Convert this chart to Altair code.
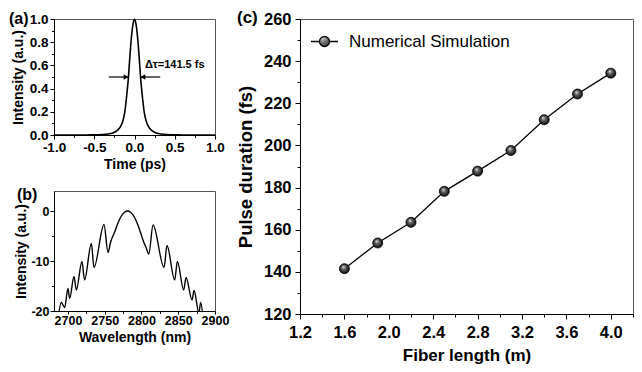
import altair as alt
import pandas as pd

FONT = "Liberation Sans"

# ---------------- (a) temporal pulse ----------------
t_ps = [-1.0, -0.8, -0.6, -0.5, -0.4, -0.33, -0.27, -0.22, -0.18, -0.15, -0.12, -0.1,
        -0.075, -0.06, -0.04, -0.02, 0.0, 0.02, 0.04, 0.06, 0.075, 0.1, 0.12, 0.15,
        0.18, 0.22, 0.27, 0.33, 0.4, 0.5, 0.6, 0.8, 1.0]
pulse_I = [0.0, 0.0, 0.0005, 0.001, 0.003, 0.008, 0.018, 0.035, 0.065, 0.11, 0.2, 0.32,
           0.5, 0.65, 0.83, 0.95, 1.0, 0.95, 0.83, 0.65, 0.5, 0.32, 0.2, 0.11,
           0.065, 0.035, 0.018, 0.008, 0.003, 0.001, 0.0005, 0.0, 0.0]

# FWHM arrows (data coordinates) and label
arrow_t_start = [-0.32, 0.32]
arrow_t_end = [-0.075, 0.075]
arrow_head_t = [-0.105, 0.105]
arrow_head_shape = ["triangle-right", "triangle-left"]
arrow_level = [0.5, 0.5]
label_t = [0.13]
label_v = [0.6]
label_text = ["Δτ=141.5 fs"]

# ---------------- (b) spectrum ----------------
wl_nm = [2686, 2691, 2695.5, 2700, 2702.3, 2708.2, 2711.4, 2719, 2722.6, 2731.8, 2735.4,
         2749, 2754.5, 2758, 2763.5, 2768, 2772.6, 2777, 2781, 2785, 2789.5, 2794,
         2798.5, 2803, 2806.5, 2810, 2815.7, 2830.7, 2834.7, 2845.2, 2848.8, 2857.4,
         2860.6, 2868.8, 2871.5, 2878, 2880.6, 2884]
spec_db = [-22, -18.3, -19.3, -15.5, -17.5, -13.1, -15.8, -10.1, -13.8, -6.5, -11.3,
           -2.7, -8.3, -6.2, -4.2, -2.4, -1.0, -0.25, 0.0, -0.25, -1.0, -2.4,
           -4.2, -6.2, -7.4, -8.6, -2.8, -11.3, -6.9, -13.8, -10.1, -15.8,
           -13.3, -17.8, -15.9, -20.3, -18.3, -22]

# ---------------- (c) pulse duration vs fiber length ----------------
fiber_m = [1.6, 1.9, 2.2, 2.5, 2.8, 3.1, 3.4, 3.7, 4.0]
duration_fs = [141.5, 153.7, 163.5, 178.2, 187.8, 197.6, 212.2, 224.4, 234.3]
series_name = ["Numerical Simulation"] * len(fiber_m)

a_xticks = [-1.0, -0.5, 0.0, 0.5, 1.0]
a_xminor = [-0.75, -0.25, 0.25, 0.75]
a_yticks = [0.0, 0.2, 0.4, 0.6, 0.8, 1.0]
a_yminor = [0.1, 0.3, 0.5, 0.7, 0.9]
b_xticks = [2700, 2750, 2800, 2850, 2900]
b_xminor = [2725, 2775, 2825, 2875]
b_yticks = [-20, -10, 0]
b_yminor = [-15, -5]
c_xticks = [1.2, 1.6, 2.0, 2.4, 2.8, 3.2, 3.6, 4.0]
c_xminor = [1.4, 1.8, 2.2, 2.6, 3.0, 3.4, 3.8, 4.2]
c_yticks = [120, 140, 160, 180, 200, 220, 240, 260]
c_yminor = [130, 150, 170, 190, 210, 230, 250]

MINUS_FIX = "replace(datum.label, '\u2212', '-')"


def major_axis(vals, title, lsize, tsize, tick, lpad, tpad, fmt, expr=None):
    kw = dict(values=vals, tickCount=len(vals), format=fmt, title=title,
              labelFontSize=lsize, titleFontSize=tsize, tickSize=tick,
              labelPadding=lpad, titlePadding=tpad, labelOverlap=False)
    if expr:
        kw["labelExpr"] = expr
    return alt.Axis(**kw)


def minor_layer(df, xf, yf, xs, ys, xvals, yvals, size):
    return alt.Chart(df).mark_point(opacity=0).encode(
        x=alt.X(xf, scale=xs, axis=alt.Axis(values=xvals, tickCount=len(xvals),
                                            labels=False, domain=False, grid=False,
                                            title=None, tickSize=size,
                                            orient="bottom")),
        y=alt.Y(yf, scale=ys, axis=alt.Axis(values=yvals, tickCount=len(yvals),
                                            labels=False, domain=False, grid=False,
                                            title=None, tickSize=size,
                                            orient="left")),
    )


def panel_title(text, dx, size, offset):
    return alt.TitleParams(text, anchor="start", frame="group", font=FONT,
                           fontSize=size, fontWeight="bold", dx=dx, offset=offset)


# ---- panel (a)
pulse_df = pd.DataFrame({"t": t_ps, "I": pulse_I})
arrow_df = pd.DataFrame({"t0": arrow_t_start, "t1": arrow_t_end, "v": arrow_level,
                         "th": arrow_head_t, "shape": arrow_head_shape})
lab_df = pd.DataFrame({"t": label_t, "v": label_v, "txt": label_text})

ax_a = alt.Scale(domain=[-1, 1], nice=False, zero=False)
ay_a = alt.Scale(domain=[0, 1], nice=False)

a_line = alt.Chart(pulse_df).mark_line(color="black", strokeWidth=1.6,
                                        interpolate="monotone").encode(
    x=alt.X("t:Q", scale=ax_a,
            axis=major_axis(a_xticks, "Time (ps)", 13.5, 14, 4, 1, 4, ".1f", MINUS_FIX)),
    y=alt.Y("I:Q", scale=ay_a,
            axis=major_axis(a_yticks, "Intensity (a.u.)", 13.5, 14, 4, 2, 4, ".1f")),
)
a_arrow = alt.Chart(arrow_df).mark_rule(color="black", strokeWidth=1.2).encode(
    x="t0:Q", x2="t1:Q", y="v:Q")
a_head = alt.Chart(arrow_df).mark_point(filled=True, color="black", size=30,
                                         opacity=1).encode(
    x="th:Q", y="v:Q",
    shape=alt.Shape("shape:N", scale=alt.Scale(domain=arrow_head_shape,
                                               range=arrow_head_shape), legend=None))
a_text = alt.Chart(lab_df).mark_text(align="left", baseline="middle", font=FONT,
                                      fontWeight="bold", fontSize=11).encode(
    x="t:Q", y="v:Q", text="txt:N")
a_minor = minor_layer(pulse_df, "t:Q", "I:Q", ax_a, ay_a, a_xminor, a_yminor, 2.5)

panel_a = alt.layer(alt.layer(a_line, a_arrow, a_head, a_text), a_minor).resolve_axis(
    x="independent", y="independent").properties(
    width=161, height=116, title=panel_title("(a)", -45, 16, -15))

# ---- panel (b)
spec_df = pd.DataFrame({"wl": wl_nm, "db": spec_db})
bx = alt.Scale(domain=[2681, 2900], nice=False, zero=False)
by = alt.Scale(domain=[-20, 4], nice=False, zero=False)
b_line = alt.Chart(spec_df).mark_line(color="black", strokeWidth=1.4,
                                       interpolate="monotone", clip=True).encode(
    x=alt.X("wl:Q", scale=bx,
            axis=major_axis(b_xticks, "Wavelength (nm)", 12.5, 14, 3, 0, 4, "d")),
    y=alt.Y("db:Q", scale=by,
            axis=major_axis(b_yticks, "Intensity (a.u.)", 12.5, 14, 4, 1, 2, "d",
                            MINUS_FIX)),
)
b_minor = minor_layer(spec_df, "wl:Q", "db:Q", bx, by, b_xminor, b_yminor, 2.5)
panel_b = alt.layer(b_line, b_minor).resolve_axis(
    x="independent", y="independent").properties(
    width=161, height=120, title=panel_title("(b)", -37, 16, -12))

# ---- panel (c)
c_df = pd.DataFrame({"L": fiber_m, "D": duration_fs, "series": series_name})
cx = alt.Scale(domain=[1.2, 4.2], nice=False, zero=False)
cy = alt.Scale(domain=[120, 260], nice=False, zero=False)

sphere = alt.RadialGradient(
    gradient="radial",
    stops=[alt.GradientStop(color="#f4f4f4", offset=0),
           alt.GradientStop(color="#6a6a6a", offset=0.35),
           alt.GradientStop(color="#000000", offset=1)],
    x1=0.38, y1=0.3, r1=0, x2=0.5, y2=0.5, r2=0.55)

legend_path = ("M-1,0L-0.37,0M0.37,0L1,0M0.37,0A0.37,0.37,0,1,1,-0.37,0"
               "A0.37,0.37,0,1,1,0.37,0Z")

c_line = alt.Chart(c_df).mark_line(color="black", strokeWidth=1.3).encode(
    x=alt.X("L:Q", scale=cx,
            axis=major_axis(c_xticks, "Fiber length (m)", 16.5, 17, 5, 5, 7, ".1f")),
    y=alt.Y("D:Q", scale=cy,
            axis=major_axis(c_yticks, "Pulse duration (fs)", 16.5, 18.5, 5, 4, 8, "d")),
)
c_pts = alt.Chart(c_df).mark_point(filled=True, fill=sphere, size=100, opacity=1,
                                    strokeWidth=0.8).encode(
    x="L:Q", y="D:Q",
    stroke=alt.Stroke("series:N",
                      scale=alt.Scale(domain=["Numerical Simulation"], range=["black"]),
                      legend=alt.Legend(title=None, orient="none", legendX=10,
                                        legendY=8, symbolType=legend_path,
                                        symbolSize=729, symbolStrokeWidth=1.3,
                                        symbolFillColor="black",
                                        labelFont=FONT, labelFontSize=17,
                                        labelFontWeight="normal", labelOffset=10,
                                        labelLimit=400, padding=0)),
)
c_minor = minor_layer(c_df, "L:Q", "D:Q", cx, cy, c_xminor, c_yminor, 3)
panel_c = alt.layer(alt.layer(c_line, c_pts), c_minor).resolve_axis(
    x="independent", y="independent").properties(
    width=333, height=295, title=panel_title("(c)", -63, 17, -16))

# flush layout: the nested column counts as zero width, so the outer spacing
# spans the left panels' width (161) plus the gap between plot areas (85)
left = alt.vconcat(panel_a, panel_b, spacing=56, bounds="flush")
chart = alt.concat(left, panel_c, columns=2, spacing=246, bounds="flush").resolve_scale(
    stroke="independent").resolve_legend(stroke="independent").properties(
    padding=0
).configure_view(stroke="#555", strokeWidth=1).configure_axis(
    labelFont=FONT, titleFont=FONT, labelFontWeight="bold", titleFontWeight="bold",
    labelColor="black", titleColor="black", domainColor="black", tickColor="black",
    domainWidth=1, tickWidth=1, grid=False, labelOverlap=False, labelFlush=False,
    labelBound=False
)

chart.save("out.html", embed_options={"renderer": "svg", "actions": False})
